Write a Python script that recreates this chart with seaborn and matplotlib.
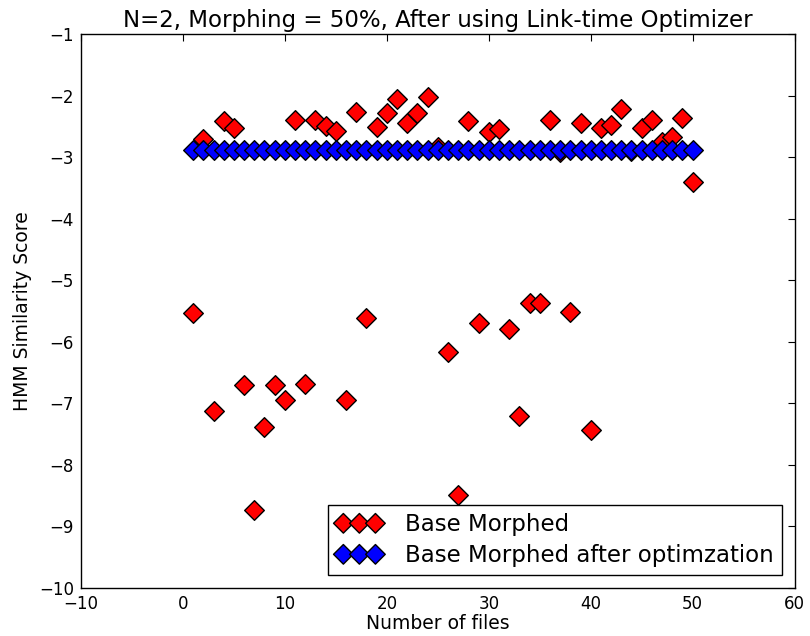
import matplotlib
matplotlib.use("Agg")
import matplotlib.pyplot as plt
import seaborn as sns
import pandas as pd

files = list(range(1, 51))
base_morphed = [
    -5.54, -2.70, -7.12, -2.42, -2.52, -6.71, -8.73, -7.38, -6.71, -6.94,
    -2.39, -6.69, -2.40, -2.50, -2.58, -6.94, -2.27, -5.62, -2.51, -2.28,
    -2.06, -2.44, -2.29, -2.03, -2.84, -6.17, -8.49, -2.42, -5.70, -2.59,
    -2.54, -5.79, -7.20, -5.37, -5.37, -2.40, -2.92, -5.52, -2.44, -7.43,
    -2.52, -2.47, -2.21, -2.90, -2.53, -2.40, -2.75, -2.67, -2.36, -3.41,
]
after_optimization = [
    -2.88, -2.88, -2.88, -2.88, -2.88, -2.88, -2.88, -2.88, -2.88, -2.88,
    -2.88, -2.88, -2.88, -2.88, -2.88, -2.88, -2.88, -2.88, -2.88, -2.88,
    -2.88, -2.88, -2.88, -2.88, -2.88, -2.88, -2.88, -2.88, -2.88, -2.88,
    -2.88, -2.88, -2.88, -2.88, -2.88, -2.88, -2.88, -2.88, -2.88, -2.88,
    -2.88, -2.88, -2.88, -2.88, -2.88, -2.88, -2.88, -2.88, -2.88, -2.88,
]
series_names = ["Base Morphed", "Base Morphed after optimzation"]
series_colors = ["#ff0000", "#0000ff"]

sns.set_style("white")
plt.rcParams["font.family"] = ["DejaVu Sans"]
plt.rcParams["text.color"] = "black"
plt.rcParams["axes.labelcolor"] = "black"

fig = plt.figure(figsize=(8.1, 6.36), dpi=100)
ax = fig.add_axes([0.1, 0.0755, 0.881, 0.871])

for name, vals, col in zip(series_names, [base_morphed, after_optimization], series_colors):
    df = pd.DataFrame({"file": files, "score": vals})
    sns.scatterplot(data=df, x="file", y="score", marker="D", s=100,
                    color=col, edgecolor="black", linewidth=1.0,
                    label=name, ax=ax)

ax.set_xlim(-10, 60)
ax.set_ylim(-10, -1)
ax.set_xticks(range(-10, 61, 10))
ax.set_yticks(range(-10, 0, 1))
ax.tick_params(direction="in", length=5, width=0.8, top=True, right=True,
               labelsize=12, colors="black", pad=5)
for sp in ax.spines.values():
    sp.set_color("black")
    sp.set_linewidth(1.0)
ax.set_xlabel("Number of files", fontsize=13.5, labelpad=1)
ax.set_ylabel("HMM Similarity Score", fontsize=13.5, labelpad=5)
ax.set_title("N=2, Morphing = 50%, After using Link-time Optimizer",
             fontsize=16.5, pad=5, color="black")

leg = ax.legend(loc="lower right", scatterpoints=3, scatteryoffsets=[0.5],
                prop={"size": 16.5}, frameon=True, fancybox=False, framealpha=1,
                edgecolor="black", borderaxespad=0.55, handletextpad=1.0,
                borderpad=0.35, labelspacing=0.35)
leg.get_frame().set_linewidth(1.0)
for t in leg.get_texts():
    t.set_color("black")

fig.savefig("out.png", dpi=100)
